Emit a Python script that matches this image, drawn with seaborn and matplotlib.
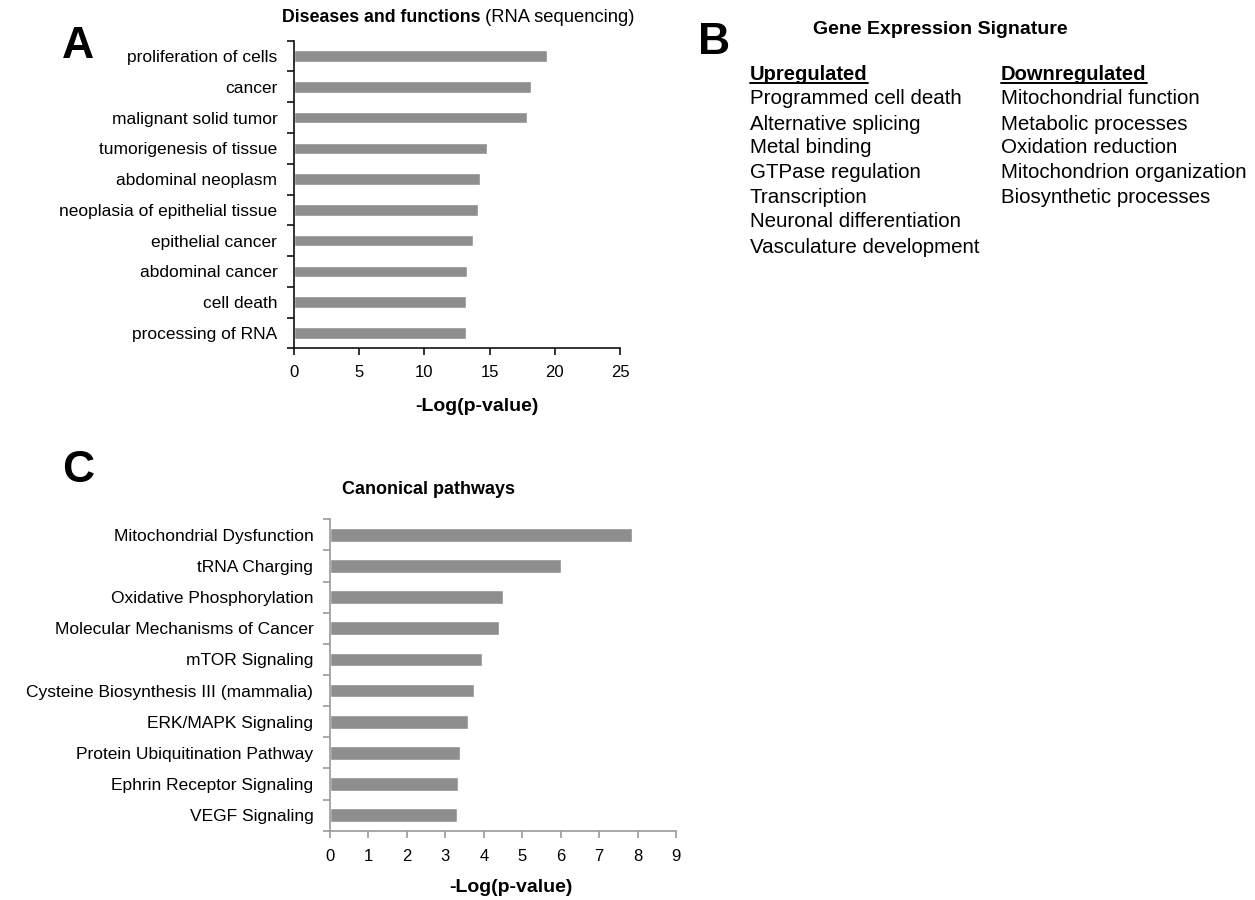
import numpy as np
import pandas as pd
import seaborn as sns
import matplotlib.pyplot as plt
from matplotlib.lines import Line2D

# panel A: diseases and functions
disease_terms = ["proliferation of cells", "cancer", "malignant solid tumor",
                 "tumorigenesis of tissue", "abdominal neoplasm",
                 "neoplasia of epithelial tissue", "epithelial cancer",
                 "abdominal cancer", "cell death", "processing of RNA"]
disease_logp = [19.4, 18.2, 17.9, 14.8, 14.3, 14.1, 13.75, 13.3, 13.2, 13.2]

# panel C: canonical pathways
pathway_terms = ["Mitochondrial Dysfunction", "tRNA Charging",
                 "Oxidative Phosphorylation", "Molecular Mechanisms of Cancer",
                 "mTOR Signaling", "Cysteine Biosynthesis III (mammalia)",
                 "ERK/MAPK Signaling", "Protein Ubiquitination Pathway",
                 "Ephrin Receptor Signaling", "VEGF Signaling"]
pathway_logp = [7.85, 6.0, 4.51, 4.4, 3.95, 3.75, 3.6, 3.37, 3.33, 3.3]

# panel B: gene expression signature
upregulated = ["Programmed cell death", "Alternative splicing", "Metal binding",
               "GTPase regulation", "Transcription", "Neuronal differentiation",
               "Vasculature development"]
downregulated = ["Mitochondrial function", "Metabolic processes",
                 "Oxidation reduction", "Mitochondrion organization",
                 "Biosynthetic processes"]

sns.set_style("white")
plt.rcParams["font.family"] = ["Liberation Sans", "DejaVu Sans"]
plt.rcParams.update({"text.color": "black", "axes.labelcolor": "black",
                     "xtick.color": "black", "ytick.color": "black"})

W, H = 1255, 900
BAR = "#8e8e8e"


def fx(x):
    return x / W


def fy(y):
    return 1 - y / H


def bar_panel(ax, terms, values, xmax, spine_col, bar_h, xpad):
    df = pd.DataFrame({"term": terms, "logp": values})
    sns.barplot(data=df, x="logp", y="term", color=BAR, saturation=1,
                width=bar_h, orient="h", ax=ax)
    sns.despine(ax=ax)
    ax.set_xlim(0, xmax)
    ax.set_ylim(len(terms) - 0.5, -0.5)
    ax.set_xticks(np.arange(0, xmax + 1, 5 if xmax > 10 else 1))
    ax.set_yticks(np.arange(-0.5, len(terms), 1), minor=True)
    ax.tick_params(axis="y", which="major", length=0, pad=12, labelsize=12.5)
    ax.tick_params(axis="y", which="minor", length=5, width=1.2,
                   color=spine_col, direction="out", left=True)
    ax.tick_params(axis="x", length=5, width=1.2, color=spine_col,
                   direction="out", bottom=True, pad=xpad, labelsize=12)
    for s in ["left", "bottom"]:
        ax.spines[s].set_color(spine_col)
        ax.spines[s].set_linewidth(1.2)
    ax.set_ylabel("")
    ax.set_xlabel("-Log(p-value)", fontsize=14, fontweight="bold")


fig = plt.figure(figsize=(12.55, 9), dpi=100)

axA = fig.add_axes([fx(294), fy(348.3), 326 / W, 307.6 / H])
bar_panel(axA, disease_terms, disease_logp, 25, "#111111", 0.38, 7)
axA.xaxis.set_label_coords((477 - 294) / 326, -0.19)
axA.xaxis.label.set_va("center")

axC = fig.add_axes([fx(330), fy(830.7), 346 / W, 311.4 / H])
bar_panel(axC, pathway_terms, pathway_logp, 9, "#9a9a9a", 0.44, 8)
axC.xaxis.set_label_coords((511 - 330) / 346, -0.181)
axC.xaxis.label.set_va("center")

# panel letters
fig.text(fx(62), fy(46), "A", fontsize=32, fontweight="bold", va="center")
fig.text(fx(698), fy(43), "B", fontsize=32, fontweight="bold", va="center")
fig.text(fx(62), fy(471), "C", fontsize=32, fontweight="bold", va="center")

# titles
tA = fig.text(fx(282), fy(18), "Diseases and functions", fontsize=12.8,
              fontweight="bold", va="center")
fig.canvas.draw()
fig.text(tA.get_window_extent().x1 / W, fy(18), " (RNA sequencing)",
         fontsize=13.2, va="center")
fig.text(fx(428), fy(490), "Canonical pathways", fontsize=13,
         fontweight="bold", ha="center", va="center")

# panel B text block
fig.text(fx(940), fy(30), "Gene Expression Signature", fontsize=14,
         fontweight="bold", ha="center", va="center")
rows = [104, 130, 153, 178, 203, 227, 253]
heads = []
for x0, head, items in [(750, "Upregulated", upregulated),
                        (1001, "Downregulated", downregulated)]:
    heads.append(fig.text(fx(x0), fy(80), head, fontsize=14.5,
                          fontweight="bold", va="baseline"))
    for y0, item in zip(rows, items):
        fig.text(fx(x0), fy(y0), item, fontsize=14.8, va="baseline")

fig.canvas.draw()
for h in heads:
    bb = h.get_window_extent()
    fig.add_artist(Line2D([bb.x0 / W, bb.x1 / W], [fy(82.5), fy(82.5)],
                          color="black", linewidth=1.4))

fig.savefig("out.png", dpi=100)
